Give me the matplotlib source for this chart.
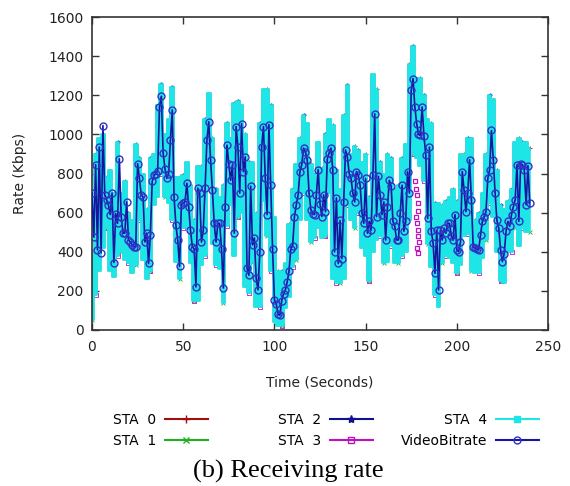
import numpy as np
import matplotlib.pyplot as plt
from matplotlib.lines import Line2D

# VideoBitrate (Kbps), one sample per second, t = 0..240
video_t = np.arange(241)
video_rate = [
    700, 475, 845, 410, 935, 395, 1045, 690, 665, 640,
    590, 700, 345, 595, 545, 875, 580, 495, 495, 655,
    460, 450, 435, 425, 425, 850, 775, 690, 680, 450,
    495, 340, 485, 760, 790, 800, 815, 1140, 1195, 905,
    825, 775, 800, 970, 1125, 680, 535, 460, 325, 640,
    650, 655, 750, 630, 510, 425, 415, 220, 725, 700,
    450, 510, 725, 970, 1065, 870, 715, 545, 450, 545,
    545, 415, 215, 630, 945, 850, 765, 845, 495, 1040,
    935, 700, 1055, 810, 885, 315, 280, 735, 435, 470,
    265, 205, 400, 935, 1040, 775, 590, 1050, 740, 415,
    155, 135, 80, 75, 150, 185, 205, 245, 300, 415,
    430, 580, 640, 690, 810, 845, 930, 910, 870, 700,
    615, 595, 590, 690, 820, 645, 580, 690, 605, 875,
    905, 930, 820, 400, 675, 340, 560, 365, 655, 920,
    885, 800, 775, 700, 655, 810, 790, 740, 600, 545,
    775, 495, 555, 510, 790, 1105, 580, 785, 690, 590,
    655, 460, 630, 765, 735, 555, 530, 460, 460, 600,
    740, 505, 555, 810, 700, 1225, 1285, 1140, 1055, 1000,
    995, 1140, 990, 895, 570, 935, 505, 445, 290, 510,
    205, 510, 460, 520, 495, 545, 545, 480, 460, 590,
    410, 400, 450, 810, 715, 605, 700, 870, 665, 425,
    420, 415, 410, 485, 555, 580, 605, 775, 820, 1020,
    870, 700, 560, 520, 410, 350, 390, 505, 555, 530,
    590, 630, 665, 845, 555, 850, 845, 820, 640, 840,
    650,
]

# STA receiving rate band (Kbps), every 2 seconds: lower and upper edge
sta_t = np.arange(0, 241, 2)
sta_low = [
    50, 180, 300, 420, 520, 300, 270, 380, 400, 360,
    340, 290, 330, 560, 360, 260, 300, 640, 680, 800,
    680, 650, 560, 350, 260, 520, 520, 340, 150, 150,
    330, 380, 740, 440, 330, 310, 140, 530, 640, 380,
    580, 600, 220, 190, 350, 120, 120, 660, 480, 300,
    40, 20, 20, 110, 170, 320, 360, 560, 700, 560,
    450, 470, 520, 470, 480, 700, 260, 240, 240, 260,
    640, 560, 520, 600, 420, 380, 250, 400, 460, 480,
    340, 350, 430, 340, 340, 380, 400, 560, 900, 880,
    840, 760, 440, 320, 180, 120, 340, 380, 370, 340,
    290, 330, 480, 490, 300, 290, 290, 370, 460, 650,
    580, 400, 250, 240, 400, 400, 520, 430, 520, 500,
    500,
]
sta_high = [
    400, 900, 980, 1000, 780, 820, 700, 960, 700, 760,
    600, 560, 950, 880, 800, 620, 880, 900, 1150, 1260,
    1000, 1080, 1240, 780, 780, 790, 860, 740, 560, 840,
    840, 1080, 1210, 980, 720, 680, 740, 1060, 980, 1160,
    1170, 1150, 1000, 860, 860, 600, 1060, 1230, 1230, 1150,
    580, 300, 300, 340, 540, 720, 850, 980, 1100, 1060,
    850, 800, 960, 830, 1000, 1080, 1050, 820, 720, 1100,
    1250, 900, 940, 920, 860, 900, 680, 1310, 1230, 860,
    800, 900, 880, 720, 740, 880, 950, 1360, 1450, 1290,
    1290, 1200, 1080, 1060, 650, 650, 640, 660, 680, 720,
    660, 900, 900, 980, 980, 560, 600, 700, 900, 1200,
    1180, 820, 640, 620, 660, 720, 960, 980, 960, 960,
    930,
]

# STA 3 samples that show outside the cyan band near t = 177..180
sta3_burst_t = [177, 177.5, 178, 178.5, 179, 177.5, 178, 178.5, 179, 179.5, 178, 179]
sta3_burst_v = [760, 720, 690, 650, 610, 580, 545, 510, 480, 450, 420, 395]

c_sta = ['#a01010', '#20b020', '#101090', '#c010c0', '#1ee6e6']
c_video = '#1515a0'

fig = plt.figure(figsize=(5.7, 4.86), dpi=100)
ax = fig.add_axes([0.1614, 0.321, 0.8, 0.644])

# STA 0..3 sit under the cyan band, only a few markers peek out
ax.plot(sta_t, sta_high, color=c_sta[0], lw=0.3, marker='+', ms=3, mew=0.6,
        markevery=3, drawstyle='steps-mid', zorder=1)
ax.plot(sta_t, sta_low, color=c_sta[1], lw=0.3, marker='x', ms=2.5, mew=0.6,
        markevery=4, drawstyle='steps-mid', zorder=1)
ax.plot(sta_t[1:], sta_high[1:], color=c_sta[2], lw=0.3, marker='*', ms=2.5,
        markevery=3, drawstyle='steps-mid', zorder=1)
ax.plot(sta_t[1:], sta_low[1:], color=c_sta[3], lw=0.3, marker='s', ms=2.5,
        mfc='none', mew=0.6, markevery=3, drawstyle='steps-mid', zorder=1)
ax.fill_between(sta_t, sta_low, sta_high, step='mid', facecolor=c_sta[4],
                edgecolor=c_sta[4], lw=1.2, zorder=2)
ax.plot(sta3_burst_t, sta3_burst_v, ls='none', marker='s', ms=3.5, mfc='none',
        mec=c_sta[3], mew=0.9, zorder=3)

ax.plot(video_t, video_rate, color=c_video, lw=1.2, marker='o', ms=5, mfc='none',
        mec='#3030c8', mew=1.0, zorder=4)

ax.set_xlim(0, 250)
ax.set_ylim(0, 1600)
ax.set_xticks(np.arange(0, 251, 50))
ax.set_yticks(np.arange(0, 1601, 200))
ax.tick_params(direction='in', length=5, width=1, top=True, right=True,
               labelsize=10, color='#333333', labelcolor='#222222')
ax.tick_params(axis='x', pad=7)
ax.tick_params(axis='y', pad=6)
for s in ax.spines.values():
    s.set_color('#333333')
    s.set_linewidth(1.2)

fig.text(20 / 570, 1 - 173 / 486, 'Rate (Kbps)', rotation=90, ha='center',
         va='center', fontsize=10, color='#222222')
fig.text(320 / 570, 1 - 382 / 486, 'Time (Seconds)', ha='center', va='center',
         fontsize=10, color='#222222')

# legend in three right-aligned columns, gnuplot style
h = [Line2D([], [], color=c_sta[0], marker='+', ms=6, mew=1),
     Line2D([], [], color=c_sta[1], marker='x', ms=5, mew=1),
     Line2D([], [], color=c_sta[2], marker='*', ms=6),
     Line2D([], [], color=c_sta[3], marker='s', ms=5, mfc='none'),
     Line2D([], [], color=c_sta[4], marker='s', ms=5),
     Line2D([], [], color=c_video, marker='o', ms=5, mfc='none', mec='#3030c8')]
labels = ['STA  0', 'STA  1', 'STA  2', 'STA  3', 'STA  4', 'VideoBitrate']
col_right = [208, 373, 539]
for i in range(3):
    fig.legend(h[2 * i:2 * i + 2], labels[2 * i:2 * i + 2], loc='center right',
               bbox_to_anchor=(col_right[i] / 570, 1 - 430.5 / 486),
               markerfirst=False, frameon=False, fontsize=10, handlelength=3.1,
               handletextpad=0.65, labelspacing=0.5, borderpad=0, borderaxespad=0)

fig.text(288 / 570, 1 - 471 / 486, '(b) Receiving rate', ha='center', va='center',
         fontsize=19, family='Liberation Serif')

fig.savefig('out.png', dpi=100)
